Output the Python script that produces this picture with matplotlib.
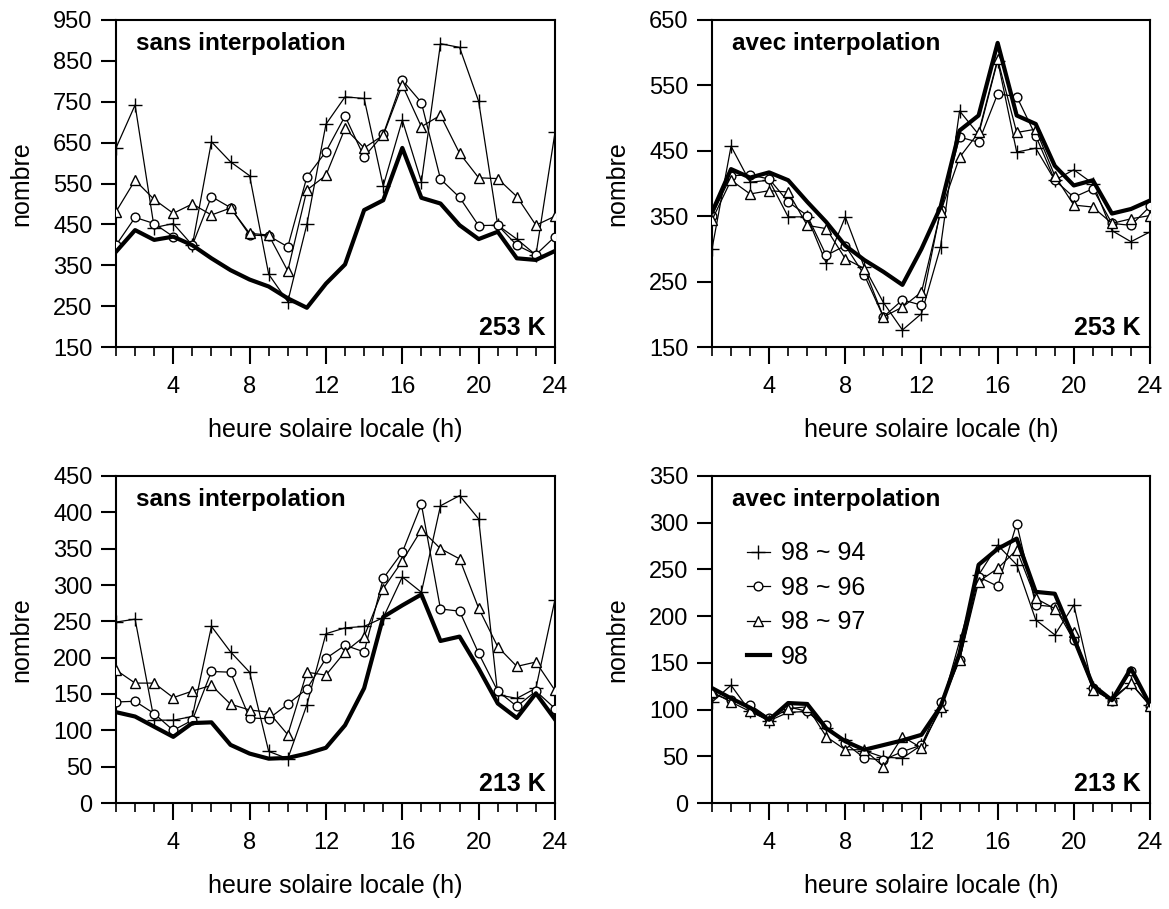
import matplotlib
matplotlib.use('Agg')
import numpy as np
import matplotlib.pyplot as plt
from matplotlib.ticker import MultipleLocator, FixedLocator

plt.rcParams['font.family'] = ['Liberation Sans', 'DejaVu Sans']

hours = list(range(1, 25))
series_labels = ['98 ~ 94', '98 ~ 96', '98 ~ 97', '98']

# 253 K, sans interpolation
tl_94 = [637, 742, 442, 452, 399, 652, 603, 569, 328, 261, 450, 695, 762, 758, 544, 705, 554, 892, 883, 751, 448, 414, 375, 675]
tl_96 = [399, 467, 452, 420, 399, 518, 491, 424, 422, 395, 566, 628, 715, 615, 670, 803, 748, 561, 516, 447, 448, 399, 376, 420]
tl_97 = [481, 558, 511, 477, 500, 473, 490, 428, 424, 336, 534, 570, 685, 637, 668, 791, 689, 717, 624, 564, 562, 518, 448, 470]
tl_98 = [383, 436, 412, 420, 399, 367, 338, 315, 298, 269, 246, 305, 352, 485, 509, 637, 515, 501, 448, 414, 432, 367, 363, 385]

# 253 K, avec interpolation
tr_94 = [300, 457, 402, 405, 349, 349, 278, 349, 272, 218, 176, 201, 303, 511, 475, 588, 448, 454, 405, 421, 400, 328, 311, 326]
tr_96 = [351, 412, 413, 407, 372, 351, 290, 305, 260, 196, 222, 214, 359, 471, 463, 537, 533, 473, 405, 379, 392, 339, 336, 365]
tr_97 = [344, 405, 384, 389, 387, 336, 331, 285, 270, 196, 211, 234, 356, 440, 478, 590, 478, 483, 412, 367, 364, 339, 346, 351]
tr_98 = [356, 422, 409, 417, 405, 372, 341, 305, 283, 265, 245, 300, 364, 481, 504, 615, 504, 491, 427, 397, 405, 354, 361, 374]

# 213 K, sans interpolation
bl_94 = [249, 253, 114, 114, 119, 243, 208, 180, 71, 61, 135, 233, 241, 243, 255, 311, 290, 409, 423, 391, 149, 144, 158, 280]
bl_96 = [139, 140, 123, 100, 114, 181, 180, 117, 116, 136, 157, 199, 217, 208, 309, 345, 411, 267, 264, 206, 154, 133, 154, 130]
bl_97 = [183, 165, 165, 145, 154, 162, 136, 128, 125, 94, 180, 176, 208, 229, 295, 333, 376, 350, 336, 268, 215, 188, 194, 155]
bl_98 = [125, 119, 105, 91, 110, 111, 80, 68, 61, 62, 68, 76, 107, 158, 256, 272, 287, 223, 229, 185, 137, 117, 151, 115]

# 213 K, avec interpolation
br_94 = [108, 126, 98, 88, 97, 98, 80, 67, 56, 49, 48, 62, 100, 173, 244, 276, 255, 196, 180, 212, 123, 112, 128, 105]
br_96 = [117, 110, 105, 91, 103, 98, 83, 64, 48, 46, 55, 62, 108, 153, 242, 232, 299, 212, 210, 174, 123, 109, 141, 104]
br_97 = [119, 108, 98, 89, 101, 103, 71, 57, 57, 39, 71, 59, 103, 153, 237, 251, 271, 219, 208, 183, 121, 110, 128, 104]
br_98 = [123, 112, 102, 89, 107, 106, 80, 66, 57, 62, 67, 73, 103, 160, 255, 272, 283, 226, 224, 176, 126, 110, 144, 105]

x_major = [4, 8, 12, 16, 20, 24]

W, H = 1169, 909
fig = plt.figure(figsize=(W / 100, H / 100), dpi=100)


def add_axes(l, t, r, b):
    return fig.add_axes([l / W, 1 - b / H, (r - l) / W, (b - t) / H])


panels = [
    dict(box=(116, 20, 555, 347), data=(tl_94, tl_96, tl_97, tl_98), ylim=(150, 950), ystep=100,
         title='sans interpolation', k='253 K', legend=False),
    dict(box=(712, 20, 1150, 347), data=(tr_94, tr_96, tr_97, tr_98), ylim=(150, 650), ystep=100,
         title='avec interpolation', k='253 K', legend=False),
    dict(box=(116, 476, 555, 803), data=(bl_94, bl_96, bl_97, bl_98), ylim=(0, 450), ystep=50,
         title='sans interpolation', k='213 K', legend=False),
    dict(box=(712, 476, 1150, 803), data=(br_94, br_96, br_97, br_98), ylim=(0, 350), ystep=50,
         title='avec interpolation', k='213 K', legend=True),
]

for p in panels:
    ax = add_axes(*p['box'])
    d94, d96, d97, d98 = p['data']
    ax.plot(hours, d94, color='black', lw=0.9, marker='+', ms=9.5, mew=1.0, label=series_labels[0], zorder=3)
    ax.plot(hours, d96, color='black', lw=0.9, marker='o', ms=6.3, mew=1.0, mfc='white', label=series_labels[1], zorder=3)
    ax.plot(hours, d97, color='black', lw=0.9, marker='^', ms=7, mew=1.0, mfc='white', label=series_labels[2], zorder=3)
    ax.plot(hours, d98, color='black', lw=3.0, label=series_labels[3], zorder=4)

    y0, y1 = p['ylim']
    ax.set_xlim(1, 24)
    ax.set_ylim(y0, y1)
    ax.xaxis.set_major_locator(FixedLocator(x_major))
    ax.xaxis.set_minor_locator(MultipleLocator(1))
    ax.yaxis.set_major_locator(FixedLocator(np.arange(y0, y1 + 1, p['ystep'])))
    ax.tick_params(axis='x', which='major', direction='out', length=12, width=1.5, labelsize=17, pad=9)
    ax.tick_params(axis='x', which='minor', direction='out', length=6.5, width=1.2)
    ax.tick_params(axis='y', which='major', direction='out', length=11, width=1.5, labelsize=17, pad=6)
    for s in ax.spines.values():
        s.set_linewidth(1.5)
    ax.set_xlabel('heure solaire locale (h)', fontsize=18, labelpad=14)
    ax.set_ylabel('nombre', fontsize=18, labelpad=14)

    ax.text(0.046, 0.908, p['title'], transform=ax.transAxes, fontsize=17.5, fontweight='bold',
            ha='left', va='baseline')
    ax.text(0.978, 0.037, p['k'], transform=ax.transAxes, fontsize=18, fontweight='bold',
            ha='right', va='baseline')

    if p['legend']:
        ax.legend(loc='upper left', bbox_to_anchor=(0.08, 0.80), frameon=False, fontsize=18,
                  handlelength=0.9, handletextpad=0.45, labelspacing=0.42, borderpad=0, borderaxespad=0)

fig.savefig('out.png', dpi=100)
